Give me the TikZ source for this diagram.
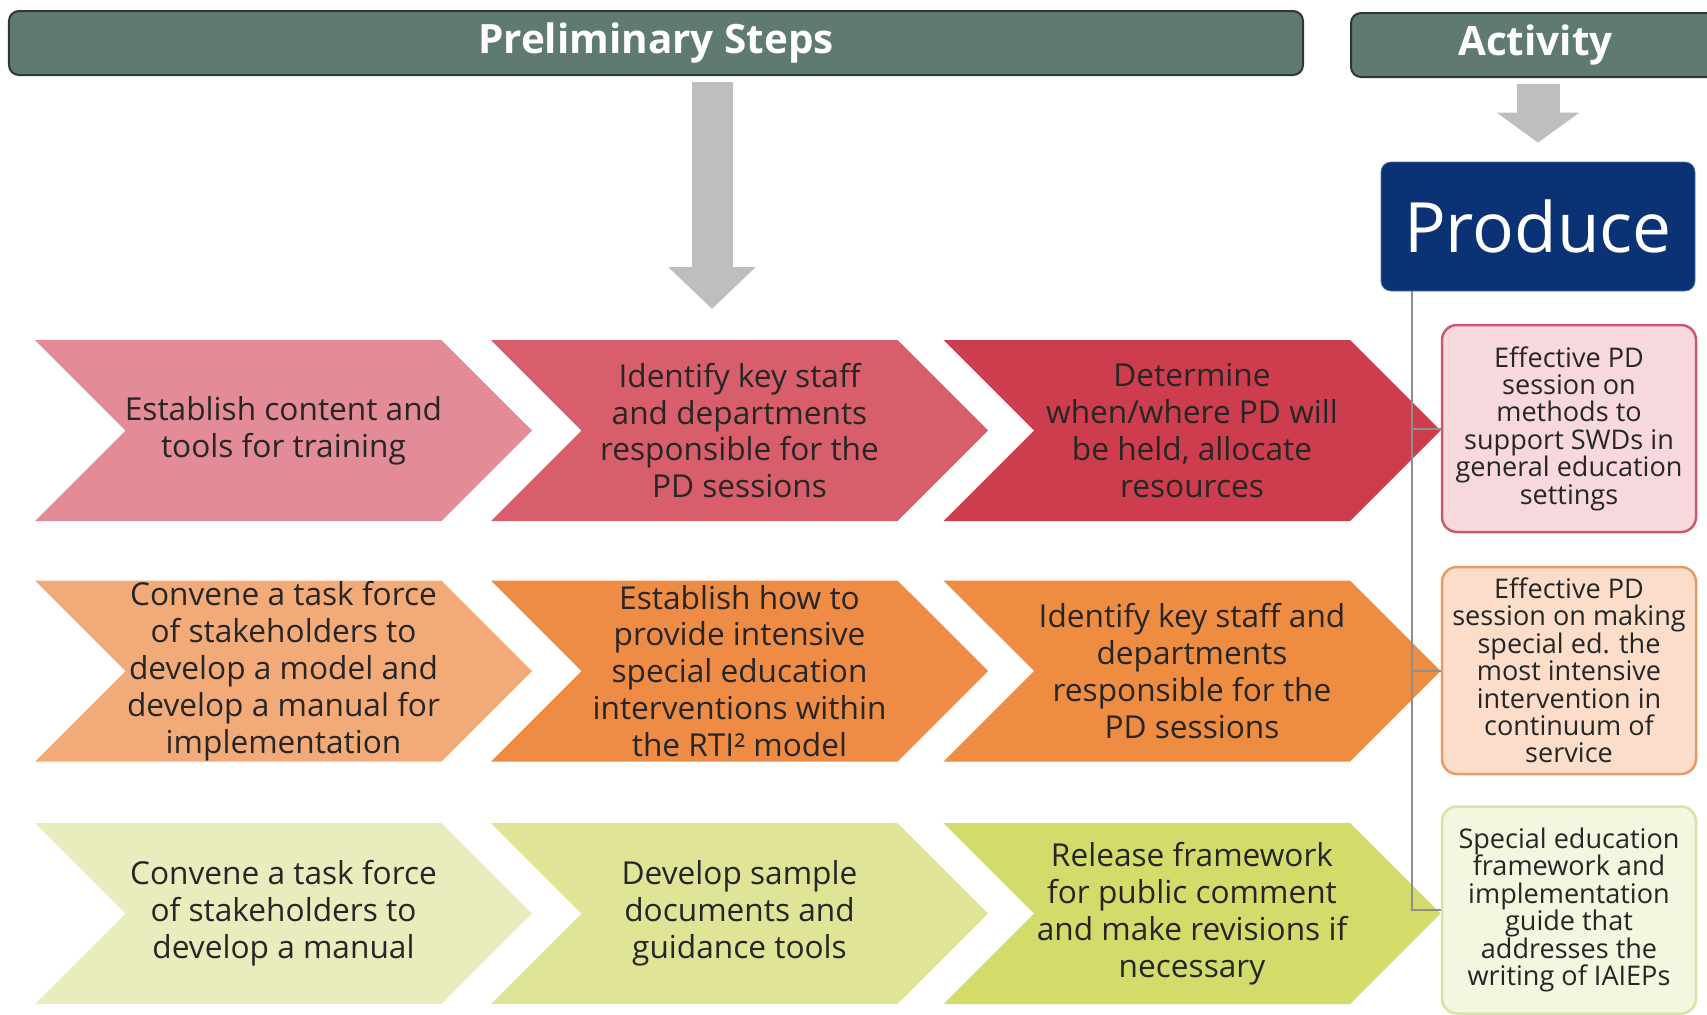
\documentclass[tikz,border=0pt]{standalone}
\usepackage{fontspec}
\setmainfont{Open Sans}
\usetikzlibrary{arrows.meta, positioning, shapes.symbols}

\definecolor{headfill}{HTML}{5E7A72}
\definecolor{headline}{HTML}{2E3532}
\definecolor{arrowgray}{HTML}{BDBEC0}
\definecolor{navy}{HTML}{0A3274}
\definecolor{linkgray}{HTML}{8E8E8E}
\definecolor{inkgray}{HTML}{262626}
\definecolor{redA}{HTML}{E38B96}
\definecolor{redB}{HTML}{D85E6C}
\definecolor{redC}{HTML}{CD3D4D}
\definecolor{orA}{HTML}{F2AB78}
\definecolor{orB}{HTML}{EE8B44}
\definecolor{orC}{HTML}{EE8D42}
\definecolor{grA}{HTML}{E9ECBD}
\definecolor{grB}{HTML}{DFE496}
\definecolor{grC}{HTML}{D3DB6A}
\definecolor{redbox}{HTML}{F7D8DC}
\definecolor{redrim}{HTML}{C9596B}
\definecolor{orbox}{HTML}{FBDDCA}
\definecolor{orrim}{HTML}{E89A66}
\definecolor{grbox}{HTML}{F4F6DF}
\definecolor{grrim}{HTML}{D9E1A3}

\begin{document}
\begin{tikzpicture}[x=0.2mm, y=-0.2mm]

\tikzset{header/.style = {draw=headline, fill=headfill, line width=0.4mm, rounded corners=2mm, minimum height=12.8mm, text=white, font=\fontsize{23}{26}\selectfont\bfseries}}
\tikzset{chev/.style = {shape=signal, signal from=west, signal to=east, signal pointer angle=90, minimum width=99.4mm, minimum height=36.2mm, inner sep=0pt}}
\tikzset{steptext/.style = {inner sep=0pt, align=center, text=inkgray, font=\fontsize{18}{21}\selectfont}}
\tikzset{result/.style = {draw, line width=0.5mm, rounded corners=3mm, minimum width=50.8mm, minimum height=41.4mm, inner sep=0pt, align=center, text=inkgray, font=\fontsize{15.4}{15.6}\selectfont}}
\tikzset{bigarrow/.style = {draw=arrowgray, line width=8.2mm, -{Triangle[width=17mm, length=8.4mm]}}}
\tikzset{link/.style = {draw=linkgray, line width=0.4mm}}

\useasboundingbox (0,0) rectangle (1707,1014);
\clip (0,0) rectangle (1707,1014);

% headers
\node[header, minimum width=258.8mm] (prelim) at (656,43) {Preliminary Steps};
\node[header, minimum width=73.8mm] (act) at (1535.5,45) {Activity};
\node[fill=navy, draw=navy!70!white, rounded corners=2mm, minimum width=62.8mm, minimum height=25.8mm, text=white, font=\fontsize{39.5}{42}\selectfont] (prod) at (1538,226.5) {Produce};

% steps
\node[chev, fill=redA] (a1) at (283.5,430.5) {};
\node[chev, fill=redB] (a2) at (739.5,430.5) {};
\node[chev, fill=redC] (a3) at (1192,430.5) {};
\node[chev, fill=orA] (b1) at (283.5,671) {};
\node[chev, fill=orB] (b2) at (739.5,671) {};
\node[chev, fill=orC] (b3) at (1192,671) {};
\node[chev, fill=grA] (c1) at (283.5,913.5) {};
\node[chev, fill=grB] (c2) at (739.5,913.5) {};
\node[chev, fill=grC] (c3) at (1192,913.5) {};

% step texts
\node[steptext] (a1t) at (a1) {Establish content and\\tools for training};
\node[steptext] (a2t) at (a2) {Identify key staff\\and departments\\responsible for the\\PD sessions};
\node[steptext] (a3t) at (a3) {Determine\\when/where PD will\\be held, allocate\\resources};
\node[steptext] (b1t) at (b1) {Convene a task force\\of stakeholders to\\develop a model and\\develop a manual for\\implementation};
\node[steptext] (b2t) at (b2) {Establish how to\\provide intensive\\special education\\interventions within\\the RTI² model};
\node[steptext] (b3t) at (b3) {Identify key staff and\\departments\\responsible for the\\PD sessions};
\node[steptext] (c1t) at (c1) {Convene a task force\\of stakeholders to\\develop a manual};
\node[steptext] (c2t) at (c2) {Develop sample\\documents and\\guidance tools};
\node[steptext] (c3t) at (c3) {Release framework\\for public comment\\and make revisions if\\necessary};

% outputs
\node[result, fill=redbox, draw=redrim] (e1) at (1569,428.5) {Effective PD\\session on\\methods to\\support SWDs in\\general education\\settings};
\node[result, fill=orbox, draw=orrim] (e2) at (1569,670.5) {Effective PD\\session on making\\special ed. the\\most intensive\\intervention in\\continuum of\\service};
\node[result, fill=grbox, draw=grrim] (e3) at (1569,910) {Special education\\framework and\\implementation\\guide that\\addresses the\\writing of IAIEPs};

% arrows
\coordinate (drop) at (712,309);
\draw[bigarrow, shorten <=1.2mm] (prelim.south -| drop) -- (drop);
\draw[bigarrow, line width=8.6mm, -{Triangle[width=16.2mm, length=6mm]}, shorten <=1.2mm, shorten >=3.8mm] (act.south -| prod.north) -- (prod.north);

% links
\coordinate (trunk) at (1412,291);
\draw[link] (trunk) |- (e1.west);
\draw[link] (trunk) |- (e2.west);
\draw[link] (trunk) |- (e3.west);
\end{tikzpicture}
\end{document}
